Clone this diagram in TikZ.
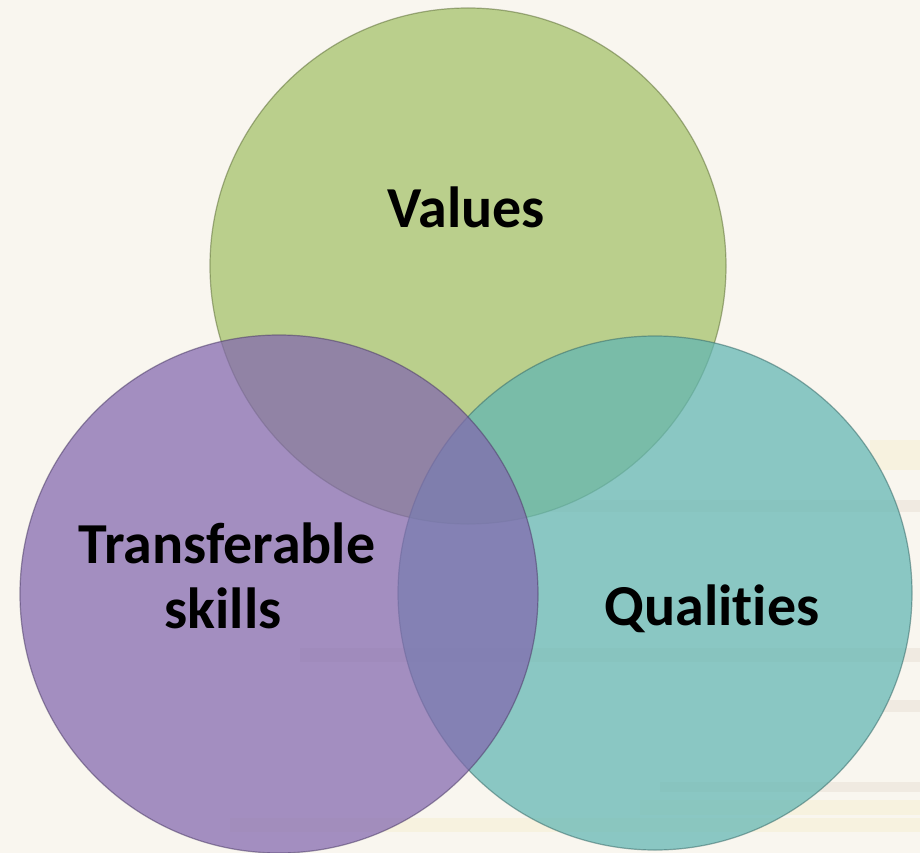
\documentclass[tikz,border=0pt]{standalone}
\usepackage{fontspec}
\setmainfont{Carlito}[Ligatures=NoCommon]
\usepackage{tikz}

\definecolor{cream}{RGB}{249,246,239}
\definecolor{stripetan}{RGB}{226,214,200}
\definecolor{stripeyel}{RGB}{246,236,196}
\definecolor{valgreen}{RGB}{163,192,102}
\definecolor{skillpurple}{RGB}{130,103,175}
\definecolor{qualteal}{RGB}{96,182,179}

\tikzset{
  ring/.style={fill opacity=0.72, draw opacity=0.55, line width=1.2pt},
  stripe/.style={fill opacity=0.35},
  venntext/.style={font=\fontsize{58}{68}\selectfont\bfseries, text=black, anchor=base, inner sep=0pt}
}

\begin{document}
\begin{tikzpicture}[x=1pt,y=-1pt]
  \fill[cream] (0,0) rectangle (920,853);
  \useasboundingbox (0,0) rectangle (920,853);
  % faint stripes behind the circles
  \fill[stripetan,stripe] (300,648) rectangle (920,662);
  \fill[stripetan,stripe] (520,500) rectangle (920,512);
  \fill[stripeyel,stripe] (870,440) rectangle (920,470);
  \fill[stripetan,stripe] (660,782) rectangle (920,792);
  \fill[stripeyel,stripe] (640,800) rectangle (920,815);
  \fill[stripeyel,stripe] (230,818) rectangle (920,832);
  \fill[stripetan,stripe] (880,700) rectangle (920,712);

  \coordinate (cv) at (468,266);
  \coordinate (cs) at (279,594);
  \coordinate (cq) at (655,593);
  \filldraw[ring, fill=valgreen, draw=valgreen!60!black] (cv) circle[radius=258];
  \filldraw[ring, fill=qualteal, draw=qualteal!60!black] (cq) circle[radius=257];
  \filldraw[ring, fill=skillpurple, draw=skillpurple!60!black] (cs) circle[radius=259];

  \node[venntext] (values) at (466,227) {Values};
  \node[venntext] (transferable) at (227,563) {Transferable};
  \node[venntext] (skills) at (223,628) {skills};
  \node[venntext] (qualities) at (712,625) {Qualities};
\end{tikzpicture}
\end{document}
